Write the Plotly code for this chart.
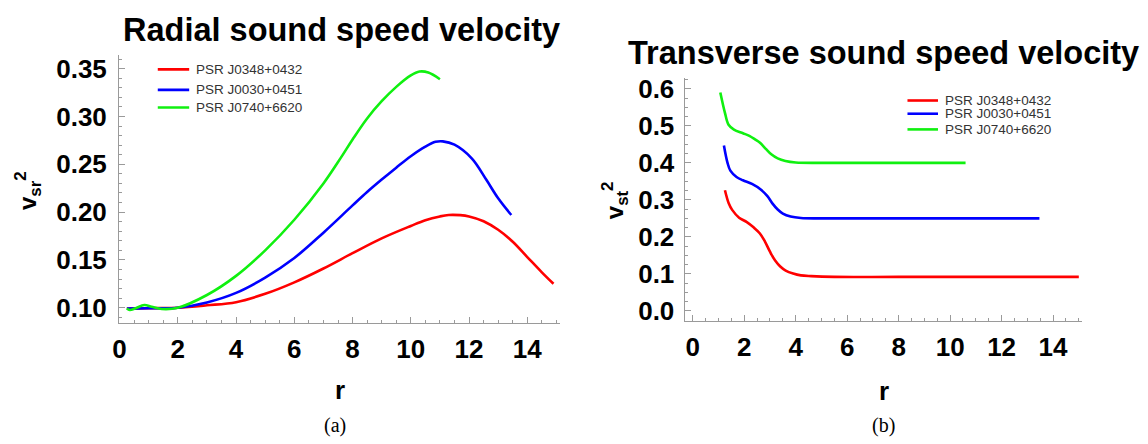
import plotly.graph_objects as go

W, H = 1148, 444

# ---- data -------------------------------------------------------------
names = ["PSR J0348+0432", "PSR J0030+0451", "PSR J0740+6620"]
colors = ["#ff0000", "#0000ff", "#10f010"]

# radial sound speed squared, v_sr^2(r)
rad_r_red = [0.25, 1.0, 2.0, 3.0, 4.0, 5.0, 6.0, 7.0, 8.0, 9.0, 10.0, 10.5, 11.0, 11.3,
             11.7, 12.0, 12.5, 13.0, 13.5, 14.0, 14.5, 14.9]
rad_v_red = [0.0990, 0.0995, 0.1000, 0.1025, 0.1058, 0.1145, 0.1265, 0.1410, 0.1570, 0.1725,
             0.1855, 0.1915, 0.1955, 0.1970, 0.1968, 0.1955, 0.1905, 0.1815, 0.1690, 0.1530,
             0.1370, 0.1250]

rad_r_blue = [0.25, 1.0, 2.0, 3.0, 4.0, 5.0, 6.0, 7.0, 8.0, 8.5, 9.0, 9.5, 10.0, 10.5,
              10.85, 11.1, 11.5, 12.1, 12.6, 13.0, 13.45]
rad_v_blue = [0.0990, 0.0995, 0.1000, 0.1055, 0.1155, 0.1315, 0.1520, 0.1785, 0.2070, 0.2210,
              0.2340, 0.2465, 0.2585, 0.2685, 0.2735, 0.2740, 0.2705, 0.2560, 0.2335, 0.2145,
              0.1970]

rad_r_green = [0.25, 0.35, 0.55, 0.85, 1.1, 1.45, 2.0, 3.0, 4.0, 5.0, 6.0, 7.0, 7.6, 8.0,
               8.5, 9.0, 9.5, 10.0, 10.3, 10.6, 11.0]
rad_v_green = [0.0993, 0.0976, 0.0995, 0.1028, 0.1010, 0.0987, 0.1000, 0.1133, 0.1333, 0.1600,
               0.1920, 0.2300, 0.2570, 0.2760, 0.2980, 0.3160, 0.3310, 0.3430, 0.3470, 0.3460,
               0.3390]

# transverse sound speed squared, v_st^2(r)
tr_r_red = [1.25, 1.4, 1.53, 1.8, 2.1, 2.36, 2.6, 2.8, 3.0, 3.2, 3.4, 3.61, 3.9, 4.2, 4.6,
            5.5, 8.0, 15.0]
tr_v_red = [0.326, 0.290, 0.273, 0.252, 0.240, 0.226, 0.210, 0.188, 0.160, 0.136, 0.120,
            0.109, 0.101, 0.096, 0.094, 0.092, 0.092, 0.092]

tr_r_blue = [1.21, 1.35, 1.46, 1.7, 1.95, 2.3, 2.64, 2.9, 3.1, 3.3, 3.5, 3.8, 4.2, 5.0, 13.47]
tr_v_blue = [0.447, 0.400, 0.379, 0.362, 0.353, 0.343, 0.328, 0.310, 0.290, 0.274, 0.263,
             0.255, 0.251, 0.250, 0.250]

tr_r_green = [1.07, 1.25, 1.39, 1.6, 1.95, 2.2, 2.43, 2.6, 2.85, 3.05, 3.3, 3.6, 4.0, 5.0,
              7.0, 10.6]
tr_v_green = [0.590, 0.535, 0.503, 0.490, 0.480, 0.473, 0.463, 0.455, 0.437, 0.423, 0.412,
              0.405, 0.401, 0.400, 0.400, 0.400]

x_ticks = [0, 2, 4, 6, 8, 10, 12, 14]
rad_y_ticks = [0.10, 0.15, 0.20, 0.25, 0.30, 0.35]
tr_y_ticks = [0.0, 0.1, 0.2, 0.3, 0.4, 0.5, 0.6]

# ---- figure -----------------------------------------------------------
fig = go.Figure()

rad_series = [(rad_r_red, rad_v_red), (rad_r_blue, rad_v_blue), (rad_r_green, rad_v_green)]
tr_series = [(tr_r_red, tr_v_red), (tr_r_blue, tr_v_blue), (tr_r_green, tr_v_green)]

for (r, v), c, n in zip(rad_series, colors, names):
    fig.add_trace(go.Scatter(x=r, y=v, mode="lines", name=n, xaxis="x", yaxis="y",
                             line=dict(color=c, width=2.6, shape="spline", smoothing=1.0),
                             showlegend=False))
for (r, v), c, n in zip(tr_series, colors, names):
    fig.add_trace(go.Scatter(x=r, y=v, mode="lines", name=n, xaxis="x2", yaxis="y2",
                             line=dict(color=c, width=2.6, shape="spline", smoothing=1.0),
                             showlegend=False))


def px(x):
    return x / W


def py(y):
    return 1 - y / H


tickfont = dict(family="Liberation Sans, Arial", size=26, color="#000", weight="bold")
axis_common = dict(showline=True, linecolor="#9a9a9a", linewidth=1, ticks="inside",
                   tickcolor="#9a9a9a", ticklen=6, tickwidth=1, showgrid=False,
                   zeroline=False, tickfont=tickfont)

fig.update_layout(
    width=W, height=H, margin=dict(l=0, r=0, t=0, b=0),
    paper_bgcolor="white", plot_bgcolor="white",
    xaxis=dict(domain=[px(112.7), px(556)], range=[-0.02, 15.11], anchor="y",
               tickvals=x_ticks, ticklabelstandoff=3,
               minor=dict(dtick=0.5, ticks="inside", ticklen=3, tickcolor="#9a9a9a"),
               **axis_common),
    yaxis=dict(domain=[py(325.7), py(51.7)], range=[0.0839, 0.3647], anchor="x",
               tickvals=rad_y_ticks, ticktext=["0.10", "0.15", "0.20", "0.25", "0.30", "0.35"],
               ticklabelstandoff=6,
               minor=dict(dtick=0.01, tick0=0.1, ticks="inside", ticklen=3, tickcolor="#9a9a9a"),
               **axis_common),
    xaxis2=dict(domain=[px(681.7), px(1082)], range=[-0.32, 15.14], anchor="y2",
                tickvals=x_ticks, ticklabelstandoff=3,
                minor=dict(dtick=0.5, ticks="inside", ticklen=3, tickcolor="#9a9a9a"),
                **axis_common),
    yaxis2=dict(domain=[py(323.3), py(76)], range=[-0.0265, 0.628], anchor="x2",
                tickvals=tr_y_ticks, ticktext=["0.0", "0.1", "0.2", "0.3", "0.4", "0.5", "0.6"],
                ticklabelstandoff=4,
                minor=dict(dtick=0.025, tick0=0, ticks="inside", ticklen=3, tickcolor="#9a9a9a"),
                **axis_common),
)

annotations = []
shapes = []


def label(text, x, y, size, family="Liberation Sans, Arial", angle=0, xanchor="center",
          color="#000", weight="bold"):
    annotations.append(dict(text=text, x=px(x), y=py(y), xref="paper", yref="paper",
                            showarrow=False, xanchor=xanchor, yanchor="middle",
                            textangle=angle,
                            font=dict(family=family, size=size, color=color, weight=weight)))


# panel titles
label("Radial sound speed velocity", 337, 27, 32.5)
label("Transverse sound speed velocity", 882, 50, 32.5)

# axis titles
label("v<sub>sr</sub><sup>2</sup>", 21, 190, 24, angle=-90)
label("v<sub>st</sub><sup>2</sup>", 612, 200, 24, angle=-90)
label("r", 335, 394, 26)
label("r", 882, 395, 26)

# sub-figure captions
label("(a)", 330, 430, 20, family="Liberation Serif, Times New Roman", weight="normal")
label("(b)", 882, 430, 20, family="Liberation Serif, Times New Roman", weight="normal")

# legends
legend_rows = [
    (151.7, 183.3, 188, [66.7, 87.7, 105.7]),
    (906, 936.7, 942, [98.5, 112, 128]),
]
for x0, x1, xt, rows in legend_rows:
    for yy, c, n in zip(rows, colors, names):
        shapes.append(dict(type="line", xref="paper", yref="paper",
                           x0=px(x0), x1=px(x1), y0=py(yy), y1=py(yy),
                           line=dict(color=c, width=2.6)))
        label(n, xt, yy, 13.5, color="#333", xanchor="left", weight="normal")

fig.update_layout(annotations=annotations, shapes=shapes)
fig.write_html("out.html")
